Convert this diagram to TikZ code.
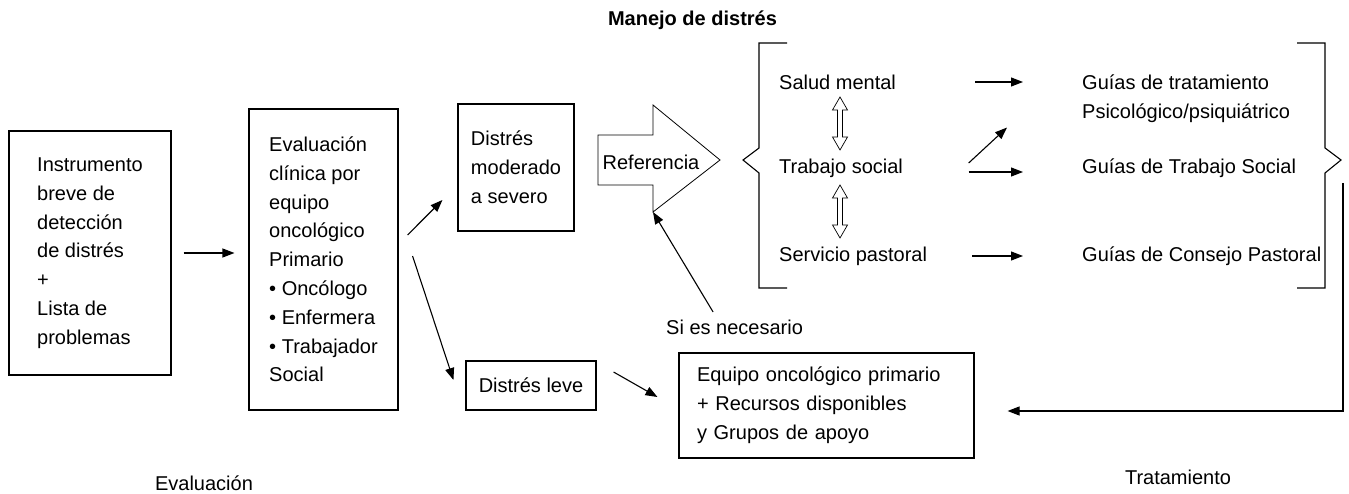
\documentclass[tikz,border=0pt]{standalone}
\usepackage{fontspec}
\setmainfont{Liberation Sans}
\usetikzlibrary{arrows.meta,positioning,calc}

% hollow double arrow: x, top y, bottom y
\newcommand{\dblarrow}[3]{%
  \draw[line width=0.7pt] (#1,#2) -- (#1+7.5,#2-13) -- (#1+2.5,#2-13) -- (#1+2.5,#3+13)
    -- (#1+7.5,#3+13) -- (#1,#3) -- (#1-7.5,#3+13) -- (#1-2.5,#3+13)
    -- (#1-2.5,#2-13) -- (#1-7.5,#2-13) -- cycle;}

\begin{document}
\begin{tikzpicture}[
    x=1pt, y=1pt,
    txt/.style={font=\fontsize{20}{28.8}\selectfont},
    box/.style={rectangle, draw, line width=1.1pt, txt, align=left, inner sep=0pt},
    lbl/.style={txt, inner sep=0pt, anchor=west, align=left},
    arrow/.style={-{Triangle[length=12pt,width=9pt]}, line width=1.1pt},
    brace/.style={line width=1.1pt}
]
    \useasboundingbox (0,0) rectangle (1349,493);

    % evaluacion
    \node[box, minimum width=162pt, minimum height=244pt] (inst) at (90,240)
        {Instrumento\\breve de\\detección\\de distrés\\+\\Lista de\\problemas};
    \node[box, minimum width=149pt, minimum height=301pt] (eval) at (323.5,233.5)
        {Evaluación\\clínica por\\equipo\\oncológico\\Primario\\• Oncólogo\\• Enfermera\\• Trabajador\\Social};
    \node[box, minimum width=116pt, minimum height=127pt] (mod) at (516,325.5)
        {Distrés\\moderado\\a severo};
    \node[box, minimum width=130pt, minimum height=49pt] (leve) at (531,107.5) {Distrés leve};
    \node[box, text width=259pt, inner xsep=18pt, minimum height=105pt] (equipo) at (826.5,87.5)
        {Equipo oncológico primario\\+ Recursos disponibles\\y Grupos de apoyo};

    % referencia
    \draw[line width=0.8pt] (598,358) -- (653,358) -- (653,388) -- (720,333)
        -- (653,281) coordinate (refhead) -- (653,308) -- (598,308) -- cycle;
    \node[txt, inner sep=0pt] (ref) at (651,331) {Referencia};
    \node[lbl] (sinec) at (666,166) {Si es necesario};

    % manejo de distres
    \node[txt] (title) at (692.5,473) {\bfseries Manejo de distrés};
    \node[lbl] (salud) at (779,411) {Salud mental};
    \node[lbl] (trab) at (779,325) {Trabajo social};
    \node[lbl] (serv) at (779,237) {Servicio pastoral};
    \node[lbl] (g1) at (1082,394.5) {Guías de tratamiento\\Psicológico/psiquiátrico};
    \node[lbl] (g2) at (1082,325) {Guías de Trabajo Social};
    \node[lbl] (g3) at (1082,237) {Guías de Consejo Pastoral};

    \draw[brace] (787,450) -- (759,450) -- (759,345) -- (743,333) -- (759,320) -- (759,205) -- (787,205);
    \draw[brace] (1297,450) -- (1325,450) -- (1325,345) -- (1341,333) -- (1325,320) -- (1325,205) -- (1297,205);
    \dblarrow{840}{396}{343}
    \dblarrow{840}{308}{255}

    \node[txt] (evallbl) at (204,10) {Evaluación};
    \node[txt] (tratlbl) at (1178,16) {Tratamiento};

    % connectors
    \draw[arrow, shorten <=12pt, shorten >=14pt] (inst.east) -- (inst.east -| eval.west);
    \draw[arrow] ([xshift=9pt,yshift=24.5pt]eval.east) -- ([xshift=-15pt,yshift=-32.5pt]mod.west);
    \draw[arrow] ([xshift=14pt,yshift=3.5pt]eval.east) -- ([xshift=-12pt,yshift=5.5pt]leve.west);
    \draw[arrow] ([xshift=17pt,yshift=13.5pt]leve.east) -- ([xshift=-21pt,yshift=8.5pt]equipo.west);
    \draw[arrow] ([xshift=-21.5pt,yshift=7.5pt]sinec.north) -- (refhead);
    \draw[arrow, shorten <=79pt, shorten >=59pt] (salud.east) -- (salud.east -| g1.west);
    \draw[arrow] ([xshift=65.5pt,yshift=5pt]trab.east) -- ([xshift=-75pt,yshift=-5pt]g1.south west);
    \draw[arrow, shorten <=65.5pt, shorten >=59pt] ([yshift=-4pt]trab.east) -- ([yshift=-4pt]g2.west);
    \draw[arrow, shorten <=45pt, shorten >=59pt] (serv.east) -- (serv.east -| g3.west);
    \coordinate (ret) at (1343,310);
    \draw[arrow] (ret) |- ([xshift=33pt,yshift=-5.5pt]equipo.east);
\end{tikzpicture}
\end{document}
